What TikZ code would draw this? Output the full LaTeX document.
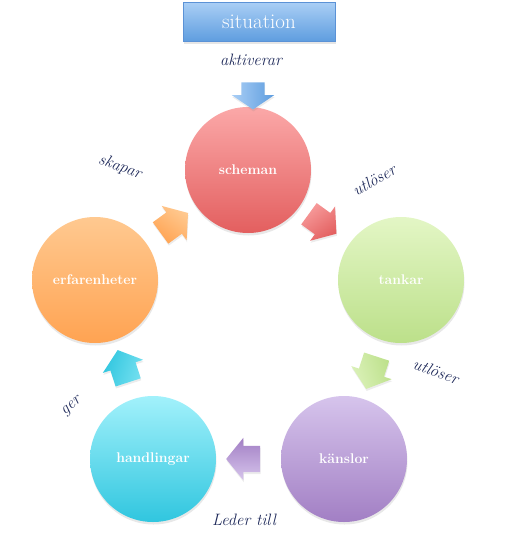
\documentclass[tikz,border=0pt]{standalone}
\usepackage{tikz}
\usetikzlibrary{shapes.arrows,shadows,calc}

\definecolor{sitTop}{HTML}{A9CEF5}
\definecolor{sitBot}{HTML}{5E9DDF}
\definecolor{sitLine}{HTML}{5B92D6}
\definecolor{schTop}{HTML}{FBA8A8}
\definecolor{schBot}{HTML}{E35F5F}
\definecolor{tanTop}{HTML}{E3F6C5}
\definecolor{tanBot}{HTML}{BCE08A}
\definecolor{kanTop}{HTML}{D6C4EC}
\definecolor{kanBot}{HTML}{A27FC4}
\definecolor{hanTop}{HTML}{A2F1FB}
\definecolor{hanBot}{HTML}{30C6DF}
\definecolor{erfTop}{HTML}{FFC990}
\definecolor{erfBot}{HTML}{FFA352}
\definecolor{verbBlue}{HTML}{1F2A5A}

\tikzset{
  stage/.style={circle, minimum size=126pt, inner sep=0pt, text=white,
    font=\fontsize{14}{16}\selectfont\bfseries,
    drop shadow={opacity=0.18, shadow xshift=0.5pt, shadow yshift=-2.5pt}},
  flow/.style n args={3}{single arrow, inner xsep=0pt, inner ysep=13pt,
    minimum height=34pt, single arrow head extend=8pt, single arrow tip angle=102,
    top color=#2, bottom color=#3, rotate=#1, shading angle=-#1,
    drop shadow={opacity=0.15, shadow xshift=0.5pt, shadow yshift=-2pt}},
  verb/.style={text=verbBlue, font=\fontsize{16.5}{19}\selectfont\itshape},
}

\begin{document}
\begin{tikzpicture}[x=1pt,y=-1pt]
  \useasboundingbox (0,0) rectangle (506,541);

  \node[draw=sitLine, top color=sitTop, bottom color=sitBot, minimum width=152pt,
    minimum height=39pt, inner sep=0pt, text=white, font=\fontsize{21}{24}\selectfont,
    drop shadow={opacity=0.2, shadow xshift=0.5pt, shadow yshift=-2.5pt}]
    (situation) at (259,22) {situation};
  \node[verb] (aktiverar) at (251,60) {aktiverar};

  \node[stage, top color=schTop, bottom color=schBot] (scheman) at (248,170) {scheman};
  \node[stage, top color=tanTop, bottom color=tanBot] (tankar) at (401,280) {tankar};
  \node[stage, top color=kanTop, bottom color=kanBot] (kanslor) at (344,459) {känslor};
  \node[stage, top color=hanTop, bottom color=hanBot] (handlingar) at (153,459) {handlingar};
  \node[stage, top color=erfTop, bottom color=erfBot] (erfarenheter) at (95,280) {erfarenheter};

  % arrows of the cycle
  \node[flow={-90}{sitTop}{sitBot}, inner ysep=11.5pt, minimum height=27pt,
    single arrow head extend=9.5pt, single arrow tip angle=112] (in) at (253,92) {};
  \node[flow={-36}{schTop!85!schBot}{schBot}] (a1) at ($(scheman)!0.46!(tankar)$) {};
  \node[flow={-108}{tanTop!80!tanBot}{tanBot}] (a2) at ($(tankar)!0.49!(kanslor)$) {};
  \node[flow={180}{kanTop}{kanBot}] (a3) at ($(kanslor)!0.5!(handlingar)$) {};
  \node[flow={108}{hanTop!60!hanBot}{hanBot}] (a4) at ($(handlingar)!0.49!(erfarenheter)$) {};
  \node[flow={36}{erfTop}{erfBot}] (a5) at ($(erfarenheter)!0.49!(scheman)$) {};

  \node[verb, rotate=30] (l1) at (374,180) {utlöser};
  \node[verb, rotate=-20] (l2) at (436,371) {utlöser};
  \node[verb] (l3) at (244,520) {Leder till};
  \node[verb, rotate=40] (l4) at (72,407) {ger};
  \node[verb, rotate=-20] (l5) at (120,167) {skapar};
\end{tikzpicture}
\end{document}
